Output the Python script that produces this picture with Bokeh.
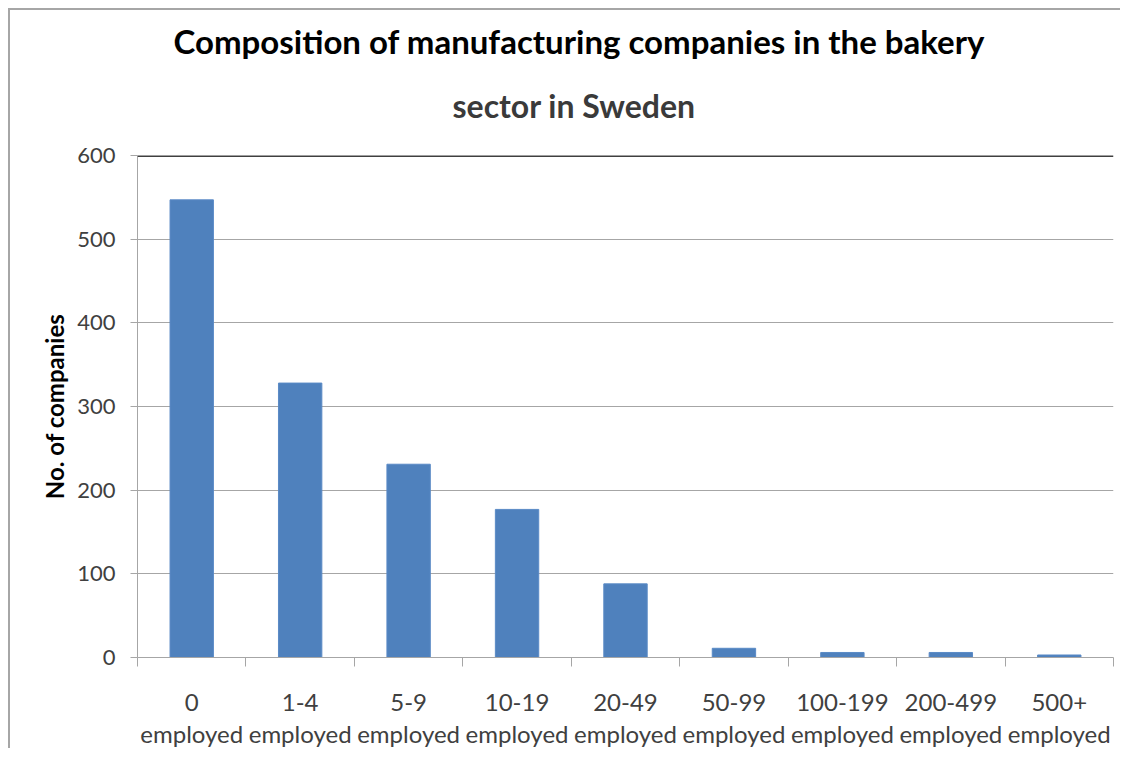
import numpy as np
from bokeh.plotting import figure
from bokeh.models import Range1d, LinearAxis, FixedTicker, Span, Title
from bokeh.embed import file_html
from bokeh.resources import INLINE

# ---- data ----
categories = ["0\nemployed", "1-4\nemployed", "5-9\nemployed", "10-19\nemployed",
              "20-49\nemployed", "50-99\nemployed", "100-199\nemployed",
              "200-499\nemployed", "500+\nemployed"]
companies = [547, 328, 231, 177, 88, 11, 6, 6, 3]
y_ticks = [0, 100, 200, 300, 400, 500, 600]
title_lines = ["Composition of manufacturing companies in the bakery", "sector in Sweden"]
y_title = "No. of companies"

FONT = "Lato"
GRID = "#a6a6a6"
TXT = "#404040"
BAR = "#4F81BD"

n = len(categories)
centers = np.arange(n) + 0.5
edges = list(range(n + 1))

W, H = 1112, 740
p = figure(x_range=Range1d(0, n), y_range=Range1d(y_ticks[0], y_ticks[-1]),
           width=W, height=H, output_backend="svg", toolbar_location=None,
           x_axis_location=None, min_border_left=127, min_border_right=9,
           min_border_top=145, min_border_bottom=84)
p.styles = {"margin-left": "8px", "margin-top": "8px",
            "border-left": "2px solid #a6a6a6", "border-top": "2px solid #a6a6a6"}
p.outline_line_color = None
p.background_fill_color = "white"
p.border_fill_color = "white"

p.vbar(x=centers, top=companies, width=0.4, fill_color=BAR, line_color="#5a8ac6", line_width=1)

# y axis
ya = p.yaxis[0]
ya.ticker = FixedTicker(ticks=y_ticks)
ya.axis_line_color = GRID
ya.major_tick_line_color = GRID
ya.major_tick_in = 0
ya.major_tick_out = 7
ya.minor_tick_line_color = None
ya.major_label_text_font = FONT
ya.major_label_text_font_size = "22px"
ya.major_label_text_color = TXT
ya.major_label_standoff = 15
ya.axis_label = y_title
ya.axis_label_text_font = FONT
ya.axis_label_text_font_size = "24px"
ya.axis_label_text_font_style = "bold"
ya.axis_label_text_color = "black"
ya.axis_label_standoff = 5

p.ygrid.grid_line_color = GRID
p.ygrid.grid_line_width = 1
p.xgrid.grid_line_color = None

# top dark line
p.add_layout(Span(location=y_ticks[-1], dimension="width", line_color="#404040", line_width=3))

# x axis: labels at category centres, tick marks at category boundaries
xa = LinearAxis(ticker=FixedTicker(ticks=list(centers), minor_ticks=edges),
                major_label_overrides={float(c): lab for c, lab in zip(centers, categories)},
                axis_line_color=GRID, major_tick_line_color=None, major_tick_in=0, major_tick_out=0,
                minor_tick_line_color=GRID, minor_tick_in=0, minor_tick_out=9,
                major_label_text_font=FONT, major_label_text_font_size="24px",
                major_label_text_color=TXT, major_label_standoff=20,
                major_label_text_line_height=1.12)
p.add_layout(xa, "below")

# title: two lines (first added sits nearest the frame), left offsets relative to the frame
p.add_layout(Title(text=title_lines[1], align="left", offset=315, text_font=FONT,
                   text_font_style="bold", text_font_size="32px", text_color="#3a3a3a",
                   standoff=61), "above")
p.add_layout(Title(text=title_lines[0], align="left", offset=36, text_font=FONT,
                   text_font_style="bold", text_font_size="33px", text_color="black",
                   standoff=-15), "above")

open("out.html", "w").write(file_html(p, INLINE))
